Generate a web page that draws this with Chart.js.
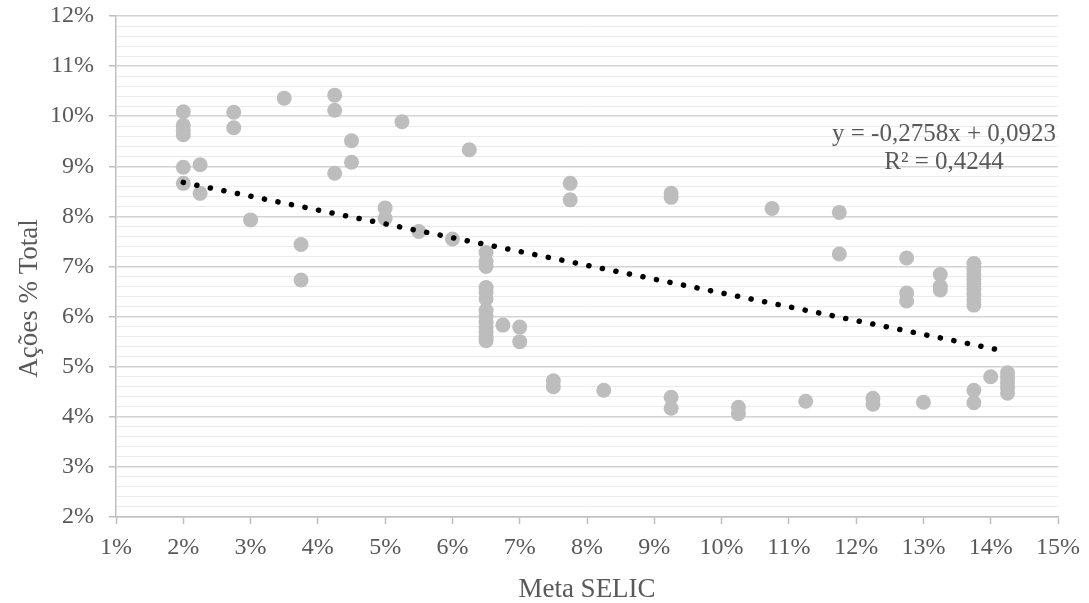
<!DOCTYPE html>
<html>
<head>
<meta charset="utf-8">
<script src="https://cdn.jsdelivr.net/npm/chart.js@4.4.1/dist/chart.umd.min.js"></script>
<style>
    html, body { margin: 0; padding: 0; background: #fff; }
    #wrap { width: 1089px; height: 603px; position: relative; }
</style>
</head>
<body>
<div id="wrap"><canvas id="chart"></canvas></div>
<script>
// Meta SELIC (%) and Ações % Total (%)
const selic = [
    2, 2, 2, 2, 2, 2,
    2.25, 2.25,
    2.75, 2.75,
    3,
    3.5,
    3.75, 3.75,
    4.25, 4.25, 4.25,
    4.5, 4.5,
    5, 5,
    5.25,
    5.5,
    6,
    6.25,
    6.5, 6.5, 6.5, 6.5, 6.5, 6.5, 6.5, 6.5, 6.5, 6.5, 6.5, 6.5, 6.5,
    6.75,
    7, 7,
    7.5, 7.5,
    7.75, 7.75,
    8.25,
    9.25, 9.25, 9.25, 9.25,
    10.25, 10.25,
    10.75,
    11.25,
    11.75, 11.75,
    12.25, 12.25,
    12.75, 12.75, 12.75,
    13,
    13.25, 13.25, 13.25,
    13.75, 13.75, 13.75, 13.75, 13.75, 13.75, 13.75, 13.75, 13.75, 13.75, 13.75,
    14,
    14.25, 14.25, 14.25, 14.25, 14.25,
];
const acoes = [
    10.09, 9.82, 9.72, 9.63, 8.98, 8.66,
    9.03, 8.46,
    10.08, 9.77,
    7.93,
    10.36,
    7.44, 6.73,
    10.42, 10.12, 8.86,
    9.51, 9.08,
    8.17, 7.96,
    9.89,
    7.70,
    7.55,
    9.33,
    7.28, 7.1, 7.0, 6.58, 6.48, 6.35, 6.12, 6.0, 5.88, 5.78, 5.68, 5.58, 5.52,
    5.83,
    5.79, 5.50,
    4.72, 4.6,
    8.66, 8.33,
    4.53,
    8.46, 8.38, 4.39, 4.17,
    4.19, 4.06,
    8.16,
    4.31,
    8.08, 7.25,
    4.37, 4.25,
    7.17, 6.47, 6.31,
    4.29,
    6.84, 6.6, 6.53,
    7.06, 6.95, 6.85, 6.75, 6.65, 6.55, 6.45, 6.33, 6.23, 4.53, 4.28,
    4.8,
    4.88, 4.78, 4.68, 4.58, 4.47,
];

// linear trendline as printed on the chart (fractions)
const trendSlope = -0.2758;
const trendIntercept = 0.0923;
const trendText = ["y = -0,2758x + 0,0923", "R² = 0,4244"];
const yTitle = "Ações % Total";
const xTitle = "Meta SELIC";

const textColor = "#595959";
const serif = "'Liberation Serif', 'Times New Roman', serif";

const points = selic.map((x, i) => ({ x: x, y: acoes[i] }));
const xMin = Math.min(...selic);
const xMax = Math.max(...selic);
const trendAt = (x) => (trendSlope * (x / 100) + trendIntercept) * 100;
const trendPoints = [
    { x: xMin, y: trendAt(xMin) },
    { x: xMax, y: trendAt(xMax) },
];

const isMajor = (v) => Math.abs(v - Math.round(v)) < 1e-6;

// equation box and the vertical title (centred on the whole chart, as in Excel)
const extraText = {
    id: "extraText",
    afterDatasetsDraw(chart) {
        const { ctx, chartArea } = chart;
        ctx.save();
        ctx.fillStyle = textColor;
        ctx.font = "25px " + serif;
        ctx.textAlign = "center";
        ctx.textBaseline = "middle";
        const cx = chartArea.right - 114;
        ctx.fillText(trendText[0], cx, 134);
        ctx.fillText(trendText[1], cx, 162);

        ctx.font = "27px " + serif;
        ctx.translate(30, chart.height / 2 - 3);
        ctx.rotate(-Math.PI / 2);
        ctx.fillText(yTitle, 0, 0);
        ctx.restore();
    },
};

Chart.defaults.font.family = serif;
Chart.defaults.color = textColor;

new Chart(document.getElementById("chart"), {
    type: "scatter",
    data: {
        datasets: [
            {
                label: "Linear",
                type: "line",
                data: trendPoints,
                borderColor: "#000000",
                borderWidth: 5.5,
                borderDash: [0.1, 13.7],
                borderCapStyle: "round",
                pointRadius: 0,
                fill: false,
                order: 0,
            },
            {
                label: yTitle,
                data: points,
                backgroundColor: "#bdbdbd",
                borderWidth: 0,
                pointRadius: 7.5,
                pointHoverRadius: 7.5,
                order: 1,
            },
        ],
    },
    options: {
        responsive: true,
        maintainAspectRatio: false,
        animation: false,
        layout: { padding: { top: 16, right: 27, bottom: 0, left: 0 } },
        plugins: {
            legend: { display: false },
            tooltip: { enabled: false },
        },
        scales: {
            x: {
                type: "linear",
                min: 1,
                max: 15,
                afterFit: (scale) => { scale.height = 86; },
                ticks: {
                    stepSize: 1,
                    padding: 9,
                    font: { size: 24 },
                    color: textColor,
                    callback: (v) => v + "%",
                },
                grid: {
                    drawOnChartArea: false,
                    drawTicks: true,
                    tickLength: 7,
                    tickColor: "#bfbfbf",
                    tickWidth: 1.5,
                },
                border: { color: "#bfbfbf", width: 1.5 },
                title: {
                    display: true,
                    text: xTitle,
                    font: { size: 27 },
                    color: textColor,
                    padding: { top: 0, bottom: -3 },
                },
            },
            y: {
                type: "linear",
                min: 2,
                max: 12,
                afterFit: (scale) => { scale.width = 116; },
                ticks: {
                    stepSize: 0.2,
                    autoSkip: false,
                    padding: 15,
                    font: { size: 24, lineHeight: 0.05 },
                    color: textColor,
                    callback: (v) => (isMajor(v) ? Math.round(v) + "%" : ""),
                },
                grid: {
                    color: (c) => (isMajor(c.tick.value) ? "#d3d3d3" : "#ebebeb"),
                    lineWidth: (c) => (isMajor(c.tick.value) ? 1.5 : 1),
                    tickColor: (c) => (isMajor(c.tick.value) ? "#bfbfbf" : "rgba(0,0,0,0)"),
                    tickLength: 7,
                    tickWidth: 1.5,
                },
                border: { color: "#bfbfbf", width: 1.5 },
                title: { display: false },
            },
        },
    },
    plugins: [extraText],
});
</script>
</body>
</html>
